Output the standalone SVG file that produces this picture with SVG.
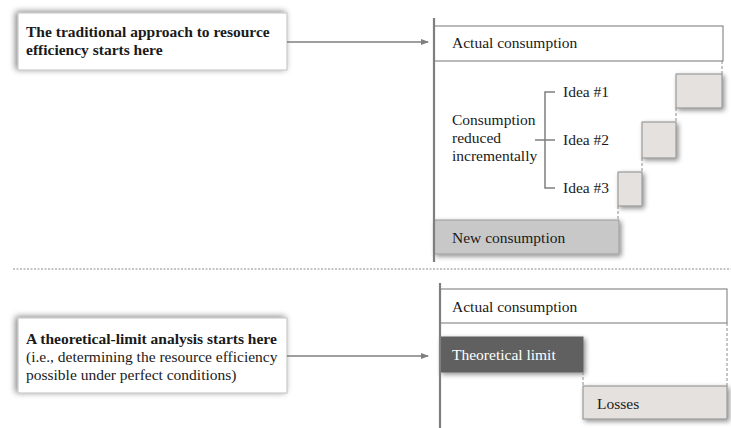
<svg xmlns="http://www.w3.org/2000/svg" width="731" height="428" viewBox="0 0 731 428">
<defs>
<filter id="sh" x="-20%" y="-30%" width="140%" height="160%">
<feGaussianBlur in="SourceAlpha" stdDeviation="3"/>
<feOffset dx="-2" dy="-1" result="b"/>
<feComponentTransfer><feFuncA type="linear" slope="0.5"/></feComponentTransfer>
<feMerge><feMergeNode/><feMergeNode in="SourceGraphic"/></feMerge>
</filter>
<filter id="sh2" x="-30%" y="-30%" width="160%" height="160%">
<feGaussianBlur in="SourceAlpha" stdDeviation="2.5"/>
<feOffset dx="2" dy="2" result="b"/>
<feComponentTransfer><feFuncA type="linear" slope="0.45"/></feComponentTransfer>
<feMerge><feMergeNode/><feMergeNode in="SourceGraphic"/></feMerge>
</filter>
<marker id="ah" markerWidth="8" markerHeight="8" refX="7" refY="4" orient="auto" markerUnits="userSpaceOnUse">
<path d="M0,1 L8,4 L0,7 Z" fill="#7f7f7f"/>
</marker>
</defs>
<style>
text{font-family:'Liberation Serif','Times New Roman',serif;font-size:15.5px;fill:#1a1a1a}
.b{font-weight:bold}
.w{fill:#ffffff}
.note{fill:#ffffff;stroke:#bfbfbf;stroke-width:1}
.bar{fill:#ffffff;stroke:#8c8c8c;stroke-width:1.2}
.idea{fill:#e5e1de;stroke:#8c8c8c;stroke-width:1}
.newc{fill:#c8c8c8;stroke:#9a9a9a;stroke-width:1}
.theo{fill:#606060;stroke:#606060;stroke-width:1}
.axis{stroke:#7f7f7f;stroke-width:2.2;fill:none}
.dash{stroke:#8c8c8c;stroke-width:1;stroke-dasharray:3,2;fill:none}
.arr{stroke:#7f7f7f;stroke-width:1.6;fill:none}
.br{stroke:#7f7f7f;stroke-width:1.5;fill:none}
.sep{stroke:#8c8c8c;stroke-width:1;stroke-dasharray:2,1.5;fill:none}
</style>
<rect width="731" height="428" fill="#ffffff"/>

<g id="note-traditional">
<rect class="note" x="18" y="13" width="269" height="57" filter="url(#sh)"/>
<text class="b" x="26" y="37">The traditional approach to resource</text>
<text class="b" x="26" y="55">efficiency starts here</text>
</g>

<g id="top-actual">
<rect class="bar" x="434" y="26" width="289" height="35"/>
<text x="452" y="48">Actual consumption</text>
</g>

<g id="idea1-box"><rect class="idea" x="676" y="74" width="46" height="34" filter="url(#sh2)"/></g>
<g id="idea2-box"><rect class="idea" x="642" y="122" width="34" height="36" filter="url(#sh2)"/></g>
<g id="idea3-box"><rect class="idea" x="618" y="172" width="24" height="34" filter="url(#sh2)"/></g>

<g id="new-consumption">
<rect class="newc" x="434" y="220" width="185" height="34" filter="url(#sh2)"/>
<text x="452" y="243">New consumption</text>
</g>

<g id="reduced-label">
<text x="452" y="125">Consumption</text>
<text x="452" y="143">reduced</text>
<text x="452" y="161">incrementally</text>
</g>

<g id="idea-labels">
<text x="563" y="97">Idea #1</text>
<text x="563" y="145">Idea #2</text>
<text x="563" y="193">Idea #3</text>
</g>

<g id="separator"><line class="sep" x1="13" y1="269" x2="731" y2="269"/></g>

<g id="note-theoretical">
<rect class="note" x="18" y="318" width="269" height="75" filter="url(#sh)"/>
<text class="b" x="26" y="344">A theoretical-limit  analysis starts here</text>
<text x="26" y="362">(i.e.,  determining the resource efficiency</text>
<text x="26" y="380">possible under perfect conditions)</text>
</g>

<g id="bottom-actual">
<rect class="bar" x="440" y="289" width="287" height="34"/>
<text x="452" y="312">Actual consumption</text>
</g>

<g id="theoretical-limit">
<rect class="theo" x="440" y="337" width="143" height="35" filter="url(#sh2)"/>
<text class="w" x="452" y="360">Theoretical  limit</text>
</g>

<g id="losses">
<rect class="idea" x="583" y="386" width="144" height="33" filter="url(#sh2)"/>
<text x="597" y="409">Losses</text>
</g>

<g id="connectors">
<line class="axis" x1="434" y1="18" x2="434" y2="262"/>
<line class="axis" x1="440" y1="283" x2="440" y2="428"/>
<line class="arr" x1="287" y1="42" x2="428" y2="42" marker-end="url(#ah)"/>
<line class="arr" x1="287" y1="356" x2="428" y2="356" marker-end="url(#ah)"/>
<path class="br" d="M555,92 H545 V188 H555 M535,140 H555"/>
<line class="dash" x1="722" y1="61" x2="722" y2="74"/>
<line class="dash" x1="676" y1="108" x2="676" y2="122"/>
<line class="dash" x1="642" y1="158" x2="642" y2="172"/>
<line class="dash" x1="618" y1="206" x2="618" y2="220"/>
<line class="dash" x1="727" y1="323" x2="727" y2="386"/>
<line class="dash" x1="583" y1="372" x2="583" y2="386"/>
</g>
</svg>
